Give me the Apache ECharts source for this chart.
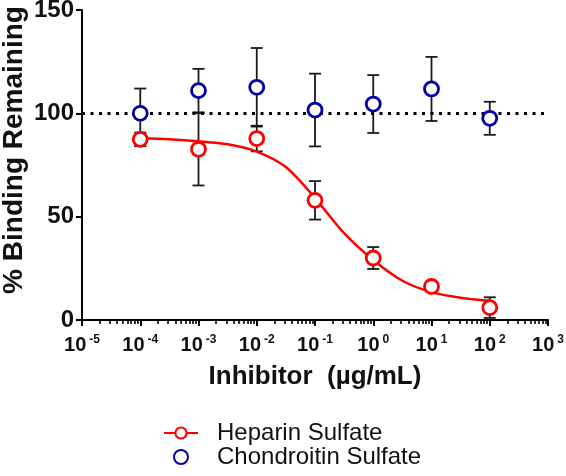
<!DOCTYPE html>
<html>
<head>
<meta charset="utf-8">
<script src="https://cdn.jsdelivr.net/npm/echarts@6/dist/echarts.min.js"></script>
<style>
html,body{margin:0;padding:0;background:#fff;}
#chart{width:566px;height:476px;}
</style>
</head>
<body>
<div id="chart"></div>
<script>
// ---- data ----
const concentrations = [1e-4, 1e-3, 1e-2, 1e-1, 1, 10, 100];
const heparinMean = [87.4, 82.6, 87.8, 57.9, 30.0, 16.2, 6.0];
const heparinErr = [3.3, 17.5, 6.2, 9.3, 5.3, 0, 5.0];
const chondroitinMean = [100, 111, 112.6, 101.6, 104.5, 111.8, 97.6];
const chondroitinErr = [12, 10.5, 19, 17.6, 14, 15.5, 8];
// fitted curve
const fitX = [1e-4, 3.16e-4, 1e-3, 3.16e-3, 1e-2, 3.16e-2, 0.1, 0.316, 1, 3.16, 10, 31.6, 100];
const fitY = [88, 87.5, 86.5, 85, 81.5, 74, 59, 42, 29, 19, 13.5, 10.8, 9.3];
const xTickExponents = ['-5', '-4', '-3', '-2', '-1', '0', '1', '2', '3'];
const yTicks = [0, 50, 100, 150];
const referenceLine = 100;
const seriesNames = ['Heparin Sulfate', 'Chondroitin Sulfate'];

const FONT = 'Liberation Sans, Arial, Helvetica, sans-serif';
const RED = '#ff0000';
const BLUE = '#0000a8';

function pairs(xs, ys) { return xs.map((x, i) => [x, ys[i]]); }
function triples(xs, ys, es) { return xs.map((x, i) => [x, ys[i], es[i]]); }

// minor log ticks (2..9 in each decade)
const minorTicks = [];
for (let k = -5; k < 3; k++) {
  for (let m = 2; m <= 9; m++) minorTicks.push(m * Math.pow(10, k));
}

function errorBarItem(params, api) {
  const x = api.value(0), y = api.value(1), e = api.value(2);
  if (!e) return { type: 'group', children: [] };
  const top = api.coord([x, y + e]);
  const bot = api.coord([x, y - e]);
  const hw = 6;
  const style = { stroke: '#1a1a1a', lineWidth: 1.8 };
  return {
    type: 'group',
    children: [
      { type: 'line', shape: { x1: top[0], y1: top[1], x2: bot[0], y2: bot[1] }, style },
      { type: 'line', shape: { x1: top[0] - hw, y1: top[1], x2: top[0] + hw, y2: top[1] }, style },
      { type: 'line', shape: { x1: bot[0] - hw, y1: bot[1], x2: bot[0] + hw, y2: bot[1] }, style }
    ]
  };
}

const chart = echarts.init(document.getElementById('chart'), null, { renderer: 'canvas' });
const option = {
  animation: false,
  backgroundColor: '#fff',
  textStyle: { fontFamily: FONT },
  grid: { left: 82, right: 18, top: 10, bottom: 156, containLabel: false, outerBoundsMode: 'none' },
  legend: {
    orient: 'vertical',
    left: 163,
    top: 421,
    padding: 0,
    itemWidth: 34,
    itemHeight: 14,
    itemGap: 0,
    textStyle: { fontFamily: FONT, fontSize: 24, color: '#111', padding: [0, 0, 0, 14] },
    data: seriesNames
  },
  xAxis: [
    {
      type: 'log', logBase: 10, min: 1e-5, max: 1e3,
      name: 'Inhibitor  (µg/mL)', nameLocation: 'middle', nameGap: 44, nameMoveOverlap: false,
      nameTextStyle: { fontFamily: FONT, fontSize: 26, fontWeight: 'bold', color: '#111' },
      axisLine: { show: true, lineStyle: { color: '#000', width: 2 } },
      axisTick: { show: true, length: 6, lineStyle: { color: '#000', width: 2 } },
      splitLine: { show: false },
      axisLabel: {
        margin: 14,
        formatter: function (v) {
          const idx = Math.round(Math.log10(v)) + 5;
          return '{b|10}{e|' + xTickExponents[idx] + '}';
        },
        rich: {
          b: { fontFamily: FONT, fontSize: 20, fontWeight: 'bold', color: '#111' },
          e: { fontFamily: FONT, fontSize: 12, fontWeight: 'bold', color: '#111', padding: [0, 0, 10, 3] }
        }
      }
    },
    {
      type: 'log', logBase: 10, min: 1e-5, max: 1e3, position: 'bottom', gridIndex: 0,
      axisLine: { show: false },
      axisLabel: { show: false },
      splitLine: { show: false },
      axisTick: { show: true, length: 4, customValues: minorTicks, lineStyle: { color: '#000', width: 1.6 } }
    }
  ],
  yAxis: {
    type: 'value', min: yTicks[0], max: yTicks[yTicks.length - 1], interval: 50,
    name: '% Binding Remaining', nameLocation: 'middle', nameGap: 54, nameMoveOverlap: false,
    nameTextStyle: { fontFamily: FONT, fontSize: 28, fontWeight: 'bold', color: '#111', padding: [0, 0, 0, 30] },
    axisLine: { show: true, lineStyle: { color: '#000', width: 2 } },
    axisTick: { show: true, length: 6, lineStyle: { color: '#000', width: 2 } },
    splitLine: { show: false },
    axisLabel: { fontFamily: FONT, fontSize: 24, fontWeight: 'bold', color: '#111', margin: 8 }
  },
  series: [
    {
      name: seriesNames[0], type: 'line', data: pairs(fitX, fitY), smooth: 0.3,
      symbol: 'circle', symbolSize: 13, showSymbol: false,
      lineStyle: { color: RED, width: 2.5 }, itemStyle: { color: '#fff', borderColor: RED, borderWidth: 2.5 },
      z: 3, silent: true
    },
    {
      name: 'hep-err', type: 'custom', renderItem: errorBarItem,
      data: triples(concentrations, heparinMean, heparinErr), z: 2, silent: true
    },
    {
      name: 'chon-err', type: 'custom', renderItem: errorBarItem,
      data: triples(concentrations, chondroitinMean, chondroitinErr), z: 2, silent: true
    },
    {
      name: seriesNames[0], type: 'scatter', data: pairs(concentrations, heparinMean),
      symbol: 'circle', symbolSize: 14,
      itemStyle: { color: '#fff', borderColor: RED, borderWidth: 2.8, opacity: 1 }, z: 5
    },
    {
      name: seriesNames[1], type: 'scatter', data: pairs(concentrations, chondroitinMean),
      symbol: 'circle', symbolSize: 14,
      itemStyle: { color: '#fff', borderColor: BLUE, borderWidth: 2.8, opacity: 1 }, z: 5,
      markLine: {
        silent: true, symbol: 'none', label: { show: false },
        lineStyle: { color: '#000', type: [3, 5.5], width: 3 },
        data: [{ yAxis: referenceLine }]
      }
    }
  ]
};
chart.setOption(option);
</script>
</body>
</html>
